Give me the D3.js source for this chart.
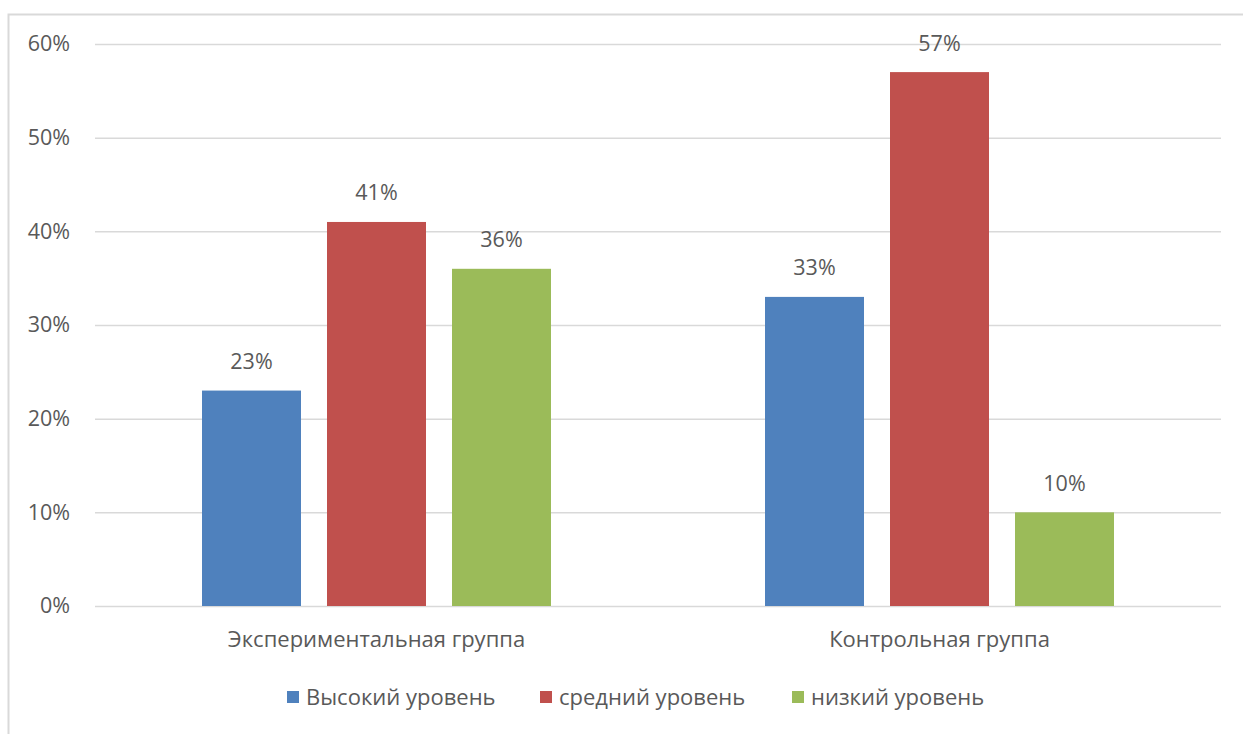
<!DOCTYPE html>
<html><head><meta charset="utf-8">
<script src="https://cdn.jsdelivr.net/npm/d3@7"></script>
<style>body{margin:0;background:#fff}</style>
</head><body>
<svg id="c" width="1243" height="734"></svg>
<script>
const categories = ["Экспериментальная группа", "Контрольная группа"];
const seriesNames = ["Высокий уровень", "средний уровень", "низкий уровень"];
const seriesColors = ["#4F81BD", "#C0504D", "#9BBB59"];
const highLevel = [0.23, 0.33];
const midLevel = [0.41, 0.57];
const lowLevel = [0.36, 0.10];
const yTicks = [0, 0.1, 0.2, 0.3, 0.4, 0.5, 0.6];

const seriesValues = [highLevel, midLevel, lowLevel];
const svg = d3.select("#c");
const font = "'Open Sans', sans-serif";
const fs = "21.5px";
const fsBig = "22px";
const textColor = "#595959";

// chart border
svg.append("path").attr("d", "M8.5,734 V14.5 H1243").attr("fill", "none").attr("stroke", "#d9d9d9").attr("stroke-width", 2);

const mLeft = 95, mRight = 1221, mTop = 44, mBottom = 606;
const x0 = d3.scaleBand().domain(categories).range([mLeft, mRight]).paddingInner(0).paddingOuter(0);
const x1 = d3.scaleBand().domain(seriesNames).range([0, x0.bandwidth()]).paddingInner(0.208).paddingOuter(0.856);
const y = d3.scaleLinear().domain([0, 0.6]).range([mBottom, mTop]);

const yAxis = d3.axisLeft(y).tickValues(yTicks).tickFormat(d3.format(".0%")).tickSize(-(mRight - mLeft)).tickPadding(25);
const ga = svg.append("g").attr("transform", `translate(${mLeft},0)`).call(yAxis);
ga.select(".domain").remove();
ga.selectAll(".tick line").attr("stroke", "#d9d9d9").attr("stroke-width", 1.5);
ga.selectAll(".tick text").attr("fill", textColor).style("font-family", font).style("font-size", fs);

const groups = svg.append("g").selectAll("g").data(categories).join("g")
  .attr("transform", d => `translate(${x0(d)},0)`);

seriesNames.forEach((s, si) => {
  groups.append("rect")
    .attr("x", x1(s)).attr("width", x1.bandwidth())
    .attr("y", (d, ci) => y(seriesValues[si][ci]))
    .attr("height", (d, ci) => y(0) - y(seriesValues[si][ci]))
    .attr("fill", seriesColors[si]);
  groups.append("text")
    .attr("x", x1(s) + x1.bandwidth() / 2)
    .attr("y", (d, ci) => y(seriesValues[si][ci]) - 29)
    .attr("dy", "0.35em")
    .attr("text-anchor", "middle")
    .attr("fill", textColor).style("font-family", font).style("font-size", fs)
    .text((d, ci) => d3.format(".0%")(seriesValues[si][ci]));
});

const xAxis = d3.axisBottom(x0).tickSize(0).tickPadding(25);
const gx = svg.append("g").attr("transform", `translate(0,${mBottom})`).call(xAxis);
gx.select(".domain").remove();
gx.selectAll(".tick text").attr("fill", textColor).style("font-family", font).style("font-size", fsBig);

// legend
const legendX = [287, 540, 792];
const lg = svg.append("g").selectAll("g").data(seriesNames).join("g")
  .attr("transform", (d, i) => `translate(${legendX[i]},691)`);
lg.append("rect").attr("width", 12).attr("height", 12).attr("fill", (d, i) => seriesColors[i]);
lg.append("text").attr("x", 19).attr("y", 6).attr("dy", "0.35em")
  .attr("fill", textColor).style("font-family", font).style("font-size", fsBig).text(d => d);
</script>
</body></html>
